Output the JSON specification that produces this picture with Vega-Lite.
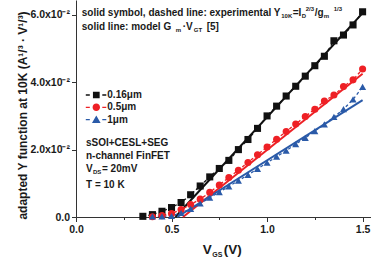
{
  "$schema": "https://vega.github.io/schema/vega-lite/v6.json",
  "width": 295,
  "height": 217,
  "autosize": {"type": "none"},
  "padding": {"left": 76, "top": 0, "right": 0, "bottom": 51},
  "background": "white",
  "config": {
    "view": {"stroke": null},
    "font": "Liberation Sans",
    "text": {"font": "Liberation Sans", "fontWeight": "bold", "color": "#1a1a1a", "align": "left", "baseline": "middle", "fontSize": 10},
    "axis": {
      "grid": false, "domainColor": "#333333", "tickColor": "#333333", "domainWidth": 1, "tickWidth": 1,
      "labelFont": "Liberation Sans", "labelFontWeight": "bold", "labelFontSize": 10.5, "labelColor": "#1a1a1a",
      "titleFont": "Liberation Sans", "titleFontWeight": "bold", "titleFontSize": 12, "titleColor": "#1a1a1a",
      "labelOverlap": false, "labelFlush": false
    }
  },
  "datasets": {
    "exp": [
      {"s": "0.16μm", "x": 0.35, "y": 0.0002}, {"s": "0.16μm", "x": 0.4, "y": 0.0007}, {"s": "0.16μm", "x": 0.45, "y": 0.0017}, {"s": "0.16μm", "x": 0.5, "y": 0.0028},
      {"s": "0.16μm", "x": 0.55, "y": 0.0043}, {"s": "0.16μm", "x": 0.6, "y": 0.0066}, {"s": "0.16μm", "x": 0.65, "y": 0.0092}, {"s": "0.16μm", "x": 0.7, "y": 0.0119},
      {"s": "0.16μm", "x": 0.75, "y": 0.0144}, {"s": "0.16μm", "x": 0.8, "y": 0.0168}, {"s": "0.16μm", "x": 0.85, "y": 0.0200}, {"s": "0.16μm", "x": 0.9, "y": 0.0230},
      {"s": "0.16μm", "x": 0.95, "y": 0.0263}, {"s": "0.16μm", "x": 1.0, "y": 0.0300}, {"s": "0.16μm", "x": 1.05, "y": 0.0329}, {"s": "0.16μm", "x": 1.1, "y": 0.0359},
      {"s": "0.16μm", "x": 1.15, "y": 0.0388}, {"s": "0.16μm", "x": 1.2, "y": 0.0418}, {"s": "0.16μm", "x": 1.25, "y": 0.0449}, {"s": "0.16μm", "x": 1.3, "y": 0.0477},
      {"s": "0.16μm", "x": 1.35, "y": 0.0523}, {"s": "0.16μm", "x": 1.4, "y": 0.0540}, {"s": "0.16μm", "x": 1.45, "y": 0.0570}, {"s": "0.16μm", "x": 1.5, "y": 0.0609},
      {"s": "0.5μm", "x": 0.4, "y": 0.0001}, {"s": "0.5μm", "x": 0.45, "y": 0.0004}, {"s": "0.5μm", "x": 0.5, "y": 0.0010}, {"s": "0.5μm", "x": 0.55, "y": 0.0022},
      {"s": "0.5μm", "x": 0.6, "y": 0.0037}, {"s": "0.5μm", "x": 0.65, "y": 0.0053}, {"s": "0.5μm", "x": 0.7, "y": 0.0073}, {"s": "0.5μm", "x": 0.75, "y": 0.0095},
      {"s": "0.5μm", "x": 0.8, "y": 0.0117}, {"s": "0.5μm", "x": 0.85, "y": 0.0139}, {"s": "0.5μm", "x": 0.9, "y": 0.0162}, {"s": "0.5μm", "x": 0.95, "y": 0.0185},
      {"s": "0.5μm", "x": 1.0, "y": 0.0208}, {"s": "0.5μm", "x": 1.05, "y": 0.0231}, {"s": "0.5μm", "x": 1.1, "y": 0.0254}, {"s": "0.5μm", "x": 1.15, "y": 0.0276},
      {"s": "0.5μm", "x": 1.2, "y": 0.0298}, {"s": "0.5μm", "x": 1.25, "y": 0.0320}, {"s": "0.5μm", "x": 1.3, "y": 0.0344}, {"s": "0.5μm", "x": 1.35, "y": 0.0362},
      {"s": "0.5μm", "x": 1.4, "y": 0.0387}, {"s": "0.5μm", "x": 1.45, "y": 0.0407}, {"s": "0.5μm", "x": 1.5, "y": 0.0439},
      {"s": "1μm", "x": 0.4, "y": 0.0002}, {"s": "1μm", "x": 0.45, "y": 0.0002}, {"s": "1μm", "x": 0.5, "y": 0.0003}, {"s": "1μm", "x": 0.55, "y": 0.0012},
      {"s": "1μm", "x": 0.6, "y": 0.0024}, {"s": "1μm", "x": 0.65, "y": 0.0040}, {"s": "1μm", "x": 0.7, "y": 0.0057}, {"s": "1μm", "x": 0.75, "y": 0.0074},
      {"s": "1μm", "x": 0.8, "y": 0.0091}, {"s": "1μm", "x": 0.85, "y": 0.0108}, {"s": "1μm", "x": 0.9, "y": 0.0125}, {"s": "1μm", "x": 0.95, "y": 0.0143},
      {"s": "1μm", "x": 1.0, "y": 0.0161}, {"s": "1μm", "x": 1.05, "y": 0.0179}, {"s": "1μm", "x": 1.1, "y": 0.0197}, {"s": "1μm", "x": 1.15, "y": 0.0216},
      {"s": "1μm", "x": 1.2, "y": 0.0235}, {"s": "1μm", "x": 1.25, "y": 0.0255}, {"s": "1μm", "x": 1.3, "y": 0.0275}, {"s": "1μm", "x": 1.35, "y": 0.0297},
      {"s": "1μm", "x": 1.4, "y": 0.0320}, {"s": "1μm", "x": 1.45, "y": 0.0349}, {"s": "1μm", "x": 1.5, "y": 0.0386}
    ],
    "model": [
      {"s": "0.16μm", "x": 0.52, "y": 0.0}, {"s": "0.16μm", "x": 1.5, "y": 0.0605},
      {"s": "0.5μm", "x": 0.56, "y": 0.0}, {"s": "0.5μm", "x": 1.5, "y": 0.0425},
      {"s": "1μm", "x": 0.53, "y": 0.0}, {"s": "1μm", "x": 1.5, "y": 0.0347}
    ],
    "one": [{}]
  },
  "resolve": {"scale": {"shape": "independent", "color": "independent"}},
  "layer": [
    {
      "data": {"name": "model"},
      "mark": {"type": "line", "strokeWidth": 2},
      "encoding": {
        "x": {
          "field": "x", "type": "quantitative",
          "scale": {"domain": [0, 1.544], "nice": false, "zero": false},
          "axis": {
            "title": null,
            "values": [0, 0.25, 0.5, 0.75, 1.0, 1.25, 1.5],
            "labelExpr": "datum.value % 0.5 === 0 ? format(datum.value, '.1f') : ''",
            "tickSize": {"condition": {"test": "datum.value % 0.5 !== 0", "value": 2.5}, "value": 4.5},
            "labelPadding": 3
          }
        },
        "y": {
          "field": "y", "type": "quantitative",
          "scale": {"domain": [0, 0.0644], "nice": false, "zero": false},
          "axis": {
            "title": "adapted Y function at 10K (A¹/³ · V¹/³)",
            "titleFontSize": 12, "titleX": -54, "titleY": 115, "titleAngle": 270, "titleAlign": "center", "titleBaseline": "middle",
            "values": [0, 0.01, 0.02, 0.03, 0.04, 0.05, 0.06],
            "labelExpr": "datum.value === 0 ? '0.0' : (round(datum.value * 100) % 2 === 0 ? format(datum.value * 100, '.1f') + 'x10⁻²' : '')",
            "tickSize": {"condition": {"test": "round(datum.value * 100) % 2 !== 0", "value": 2.5}, "value": 4.5},
            "labelPadding": 2
          }
        },
        "color": {"field": "s", "type": "nominal", "legend": null, "scale": {"domain": ["0.16μm", "0.5μm", "1μm"], "range": ["#111111", "#ee2025", "#2a5aa8"]}}
      }
    },
    {
      "data": {"name": "exp"},
      "mark": {"type": "line", "strokeWidth": 1.3, "strokeDash": [3, 2.5]},
      "encoding": {
        "x": {"field": "x", "type": "quantitative"},
        "y": {"field": "y", "type": "quantitative"},
        "color": {"field": "s", "type": "nominal", "legend": null, "scale": {"domain": ["0.16μm", "0.5μm", "1μm"], "range": ["#111111", "#ee2025", "#2a5aa8"]}}
      }
    },
    {
      "data": {"name": "exp"},
      "mark": {"type": "point", "filled": true, "size": 50, "opacity": 1, "strokeWidth": 0},
      "encoding": {
        "x": {"field": "x", "type": "quantitative"},
        "y": {"field": "y", "type": "quantitative"},
        "shape": {"field": "s", "type": "nominal", "legend": null, "scale": {"domain": ["0.16μm", "0.5μm", "1μm"], "range": ["square", "circle", "triangle-up"]}},
        "color": {"field": "s", "type": "nominal", "legend": null, "scale": {"domain": ["0.16μm", "0.5μm", "1μm"], "range": ["#111111", "#ee2025", "#2a5aa8"]}}
      }
    },
    {
      "data": {"name": "exp"},
      "mark": {"type": "point", "filled": true, "size": 48, "opacity": 0},
      "encoding": {
        "x": {"field": "x", "type": "quantitative"},
        "y": {"field": "y", "type": "quantitative"},
        "shape": {"field": "s", "type": "nominal",
          "scale": {"domain": ["0.16μm", "0.5μm", "1μm"], "range": [
            "M-1.75,-0.11H-1.08V0.11H-1.75Z M-0.56,-0.56H0.56V0.56H-0.56Z M1.0,-0.11H1.67V0.11H1.0Z",
            "M-1.75,-0.11H-1.08V0.11H-1.75Z M0.62,0A0.62,0.62 0 1,1 -0.62,0A0.62,0.62 0 1,1 0.62,0Z M1.0,-0.11H1.67V0.11H1.0Z",
            "M-1.75,-0.11H-1.08V0.11H-1.75Z M0,-0.68L0.72,0.55H-0.72Z M1.0,-0.11H1.67V0.11H1.0Z"
          ]},
          "legend": {"orient": "none", "legendX": 14.3, "legendY": 89, "title": null, "symbolSize": 144, "labelOffset": 5, "labelFontSize": 10, "labelFontWeight": "bold", "labelFont": "Liberation Sans", "labelColor": "#1a1a1a", "rowPadding": 1.3, "padding": 0, "symbolStrokeWidth": 0, "symbolOpacity": 1}
        },
        "color": {"field": "s", "type": "nominal",
          "scale": {"domain": ["0.16μm", "0.5μm", "1μm"], "range": ["#111111", "#ee2025", "#2a5aa8"]},
          "legend": {"orient": "none", "legendX": 14.3, "legendY": 89, "title": null, "symbolSize": 144, "labelOffset": 5, "labelFontSize": 10, "labelFontWeight": "bold", "labelFont": "Liberation Sans", "labelColor": "#1a1a1a", "rowPadding": 1.3, "padding": 0, "symbolStrokeWidth": 0, "symbolOpacity": 1}
        }
      }
    },
    {"data": {"name": "one"}, "mark": {"type": "text", "text": "solid symbol, dashed line: experimental Y"}, "encoding": {"x": {"datum": 0.03, "type": "quantitative"}, "y": {"datum": 0.0606, "type": "quantitative"}}},
    {"data": {"name": "one"}, "mark": {"type": "text", "text": "10K", "fontSize": 6, "dx": 199.5, "dy": 3}, "encoding": {"x": {"datum": 0.03, "type": "quantitative"}, "y": {"datum": 0.0606, "type": "quantitative"}}},
    {"data": {"name": "one"}, "mark": {"type": "text", "text": "=I", "dx": 211}, "encoding": {"x": {"datum": 0.03, "type": "quantitative"}, "y": {"datum": 0.0606, "type": "quantitative"}}},
    {"data": {"name": "one"}, "mark": {"type": "text", "text": "D", "fontSize": 6, "dx": 220, "dy": 3}, "encoding": {"x": {"datum": 0.03, "type": "quantitative"}, "y": {"datum": 0.0606, "type": "quantitative"}}},
    {"data": {"name": "one"}, "mark": {"type": "text", "text": "2/3", "fontSize": 6, "dx": 224, "dy": -4}, "encoding": {"x": {"datum": 0.03, "type": "quantitative"}, "y": {"datum": 0.0606, "type": "quantitative"}}},
    {"data": {"name": "one"}, "mark": {"type": "text", "text": "/g", "dx": 233}, "encoding": {"x": {"datum": 0.03, "type": "quantitative"}, "y": {"datum": 0.0606, "type": "quantitative"}}},
    {"data": {"name": "one"}, "mark": {"type": "text", "text": "m", "fontSize": 6, "dx": 242, "dy": 3}, "encoding": {"x": {"datum": 0.03, "type": "quantitative"}, "y": {"datum": 0.0606, "type": "quantitative"}}},
    {"data": {"name": "one"}, "mark": {"type": "text", "text": "1/3", "fontSize": 6, "dx": 252, "dy": -4}, "encoding": {"x": {"datum": 0.03, "type": "quantitative"}, "y": {"datum": 0.0606, "type": "quantitative"}}},
    {"data": {"name": "one"}, "mark": {"type": "text", "text": "solid line: model  G"}, "encoding": {"x": {"datum": 0.03, "type": "quantitative"}, "y": {"datum": 0.05645, "type": "quantitative"}}},
    {"data": {"name": "one"}, "mark": {"type": "text", "text": "m", "fontSize": 6, "dx": 94, "dy": 3}, "encoding": {"x": {"datum": 0.03, "type": "quantitative"}, "y": {"datum": 0.05645, "type": "quantitative"}}},
    {"data": {"name": "one"}, "mark": {"type": "text", "text": "·V", "dx": 101}, "encoding": {"x": {"datum": 0.03, "type": "quantitative"}, "y": {"datum": 0.05645, "type": "quantitative"}}},
    {"data": {"name": "one"}, "mark": {"type": "text", "text": "GT", "fontSize": 6, "dx": 112, "dy": 3}, "encoding": {"x": {"datum": 0.03, "type": "quantitative"}, "y": {"datum": 0.05645, "type": "quantitative"}}},
    {"data": {"name": "one"}, "mark": {"type": "text", "text": "[5]", "dx": 125}, "encoding": {"x": {"datum": 0.03, "type": "quantitative"}, "y": {"datum": 0.05645, "type": "quantitative"}}},
    {"data": {"name": "one"}, "mark": {"type": "text", "text": "sSOI+CESL+SEG"}, "encoding": {"x": {"datum": 0.0523, "type": "quantitative"}, "y": {"datum": 0.0220, "type": "quantitative"}}},
    {"data": {"name": "one"}, "mark": {"type": "text", "text": "n-channel FinFET"}, "encoding": {"x": {"datum": 0.0523, "type": "quantitative"}, "y": {"datum": 0.0180, "type": "quantitative"}}},
    {"data": {"name": "one"}, "mark": {"type": "text", "text": "V"}, "encoding": {"x": {"datum": 0.0523, "type": "quantitative"}, "y": {"datum": 0.01417, "type": "quantitative"}}},
    {"data": {"name": "one"}, "mark": {"type": "text", "text": "DS", "fontSize": 6, "dx": 7, "dy": 3}, "encoding": {"x": {"datum": 0.0523, "type": "quantitative"}, "y": {"datum": 0.01417, "type": "quantitative"}}},
    {"data": {"name": "one"}, "mark": {"type": "text", "text": "= 20mV", "dx": 16}, "encoding": {"x": {"datum": 0.0523, "type": "quantitative"}, "y": {"datum": 0.01417, "type": "quantitative"}}},
    {"data": {"name": "one"}, "mark": {"type": "text", "text": "T = 10 K"}, "encoding": {"x": {"datum": 0.0523, "type": "quantitative"}, "y": {"datum": 0.0095, "type": "quantitative"}}},
    {"data": {"name": "one"}, "mark": {"type": "text", "text": "V", "fontSize": 13.5}, "encoding": {"x": {"datum": 0.664, "type": "quantitative"}, "y": {"datum": -0.0099, "type": "quantitative"}}},
    {"data": {"name": "one"}, "mark": {"type": "text", "text": "GS", "fontSize": 7, "dx": 9.5, "dy": 5}, "encoding": {"x": {"datum": 0.664, "type": "quantitative"}, "y": {"datum": -0.0099, "type": "quantitative"}}},
    {"data": {"name": "one"}, "mark": {"type": "text", "text": "(V)", "fontSize": 13.5, "dx": 21}, "encoding": {"x": {"datum": 0.664, "type": "quantitative"}, "y": {"datum": -0.0099, "type": "quantitative"}}}
  ]
}
